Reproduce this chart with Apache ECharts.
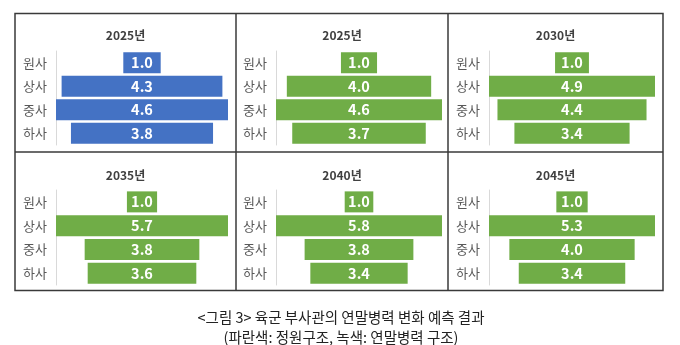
<!DOCTYPE html>
<html>
<head>
<meta charset="utf-8">
<script src="https://cdn.jsdelivr.net/npm/echarts@6/dist/echarts.min.js"></script>
<style>
  html, body { margin: 0; padding: 0; background: #fff; }
  #chart { width: 680px; height: 345px; }
</style>
</head>
<body>
<div id="chart"></div>
<script>
// 부사관 계급별 병력 (단위 값, 원사 = 1.0 기준)
const ranks = ['원사', '상사', '중사', '하사'];
const panelTitles = ['2025년', '2025년', '2030년', '2035년', '2040년', '2045년'];
const quota2025 = [1.0, 4.3, 4.6, 3.8];   // 정원구조
const year2025 = [1.0, 4.0, 4.6, 3.7];    // 연말병력 구조
const year2030 = [1.0, 4.9, 4.4, 3.4];
const year2035 = [1.0, 5.7, 3.8, 3.6];
const year2040 = [1.0, 5.8, 3.8, 3.4];
const year2045 = [1.0, 5.3, 4.0, 3.4];
const captionLines = [
  '<그림 3> 육군 부사관의 연말병력 변화 예측 결과',
  '(파란색: 정원구조, 녹색: 연말병력 구조)'
];

const panelValues = [quota2025, year2025, year2030, year2035, year2040, year2045];
const BLUE = '#4472C4';
const GREEN = '#70AD47';
const panelColors = [BLUE, GREEN, GREEN, GREEN, GREEN, GREEN];

// 패널 배치: 3열 x 2행
const colLeft = [56, 276, 489];
const colWidth = [172, 166, 166];
const colCenter = [125.5, 342, 555.5];
const rowTop = [51, 190];
const rowHeight = [94, 95];
const titleY = [35, 175];

const grids = [], xAxes = [], yAxes = [], series = [], graphics = [];
const FONT = '"Noto Sans CJK KR", "Noto Sans", sans-serif';

panelValues.forEach((vals, i) => {
  const col = i % 3, row = Math.floor(i / 3);
  const maxV = Math.max(...vals);
  grids.push({ left: colLeft[col], top: rowTop[row], width: colWidth[col], height: rowHeight[row] });
  xAxes.push({
    type: 'value', gridIndex: i, min: 0, max: maxV,
    show: false, splitLine: { show: false }
  });
  yAxes.push({
    type: 'category', gridIndex: i, data: ranks, inverse: true,
    axisLine: { show: true, lineStyle: { color: '#d9d9d9', width: 1 } },
    axisTick: { show: false },
    axisLabel: { color: '#595959', fontSize: 13, fontFamily: FONT, margin: 9 }
  });
  // 가운데 정렬용 투명 여백
  series.push({
    type: 'bar', xAxisIndex: i, yAxisIndex: i, stack: 'p' + i,
    data: vals.map(v => (maxV - v) / 2),
    itemStyle: { color: 'transparent' },
    barWidth: 21, silent: true
  });
  series.push({
    type: 'bar', xAxisIndex: i, yAxisIndex: i, stack: 'p' + i,
    data: vals,
    barWidth: 21,
    itemStyle: { color: panelColors[i] },
    label: {
      show: true, position: 'inside', color: '#fff',
      fontSize: 14.5, fontWeight: 'bold', fontFamily: FONT,
      formatter: p => p.value.toFixed(1)
    }
  });
  graphics.push({
    type: 'text', x: colCenter[col], y: titleY[row],
    style: {
      text: panelTitles[i], fill: '#404040', fontSize: 12, fontWeight: 'bold',
      fontFamily: FONT, textAlign: 'center', textVerticalAlign: 'middle'
    }
  });
});

// 표 테두리와 구분선
const frameColor = '#3a3a3a';
graphics.push({
  type: 'rect', shape: { x: 15, y: 13.5, width: 648, height: 277 },
  style: { fill: 'none', stroke: frameColor, lineWidth: 1.5 }
});
[[236, 13.5, 236, 290.5], [448, 13.5, 448, 290.5], [15, 152, 663, 152]].forEach(s => {
  graphics.push({
    type: 'line', shape: { x1: s[0], y1: s[1], x2: s[2], y2: s[3] },
    style: { stroke: frameColor, lineWidth: 1.5 }
  });
});

// 그림 설명
captionLines.forEach((t, k) => {
  graphics.push({
    type: 'text', x: 341, y: 317 + k * 20,
    style: {
      text: t, fill: '#222', fontSize: 14.5, fontFamily: FONT,
      textAlign: 'center', textVerticalAlign: 'middle'
    }
  });
});

const chart = echarts.init(document.getElementById('chart'), null, { renderer: 'canvas' });
chart.setOption({
  animation: false,
  grid: grids,
  xAxis: xAxes,
  yAxis: yAxes,
  series: series,
  graphic: graphics
});
</script>
</body>
</html>
